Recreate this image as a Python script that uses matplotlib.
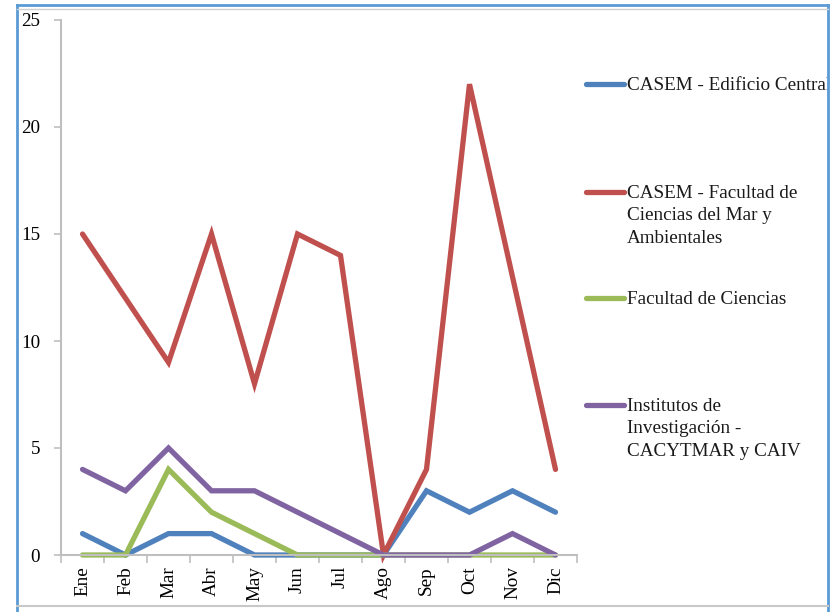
import matplotlib
matplotlib.use("Agg")
import matplotlib.pyplot as plt
from matplotlib.lines import Line2D
from matplotlib.patches import Rectangle

plt.rcParams['font.family'] = ['Liberation Serif', 'DejaVu Serif']

months = ["Ene", "Feb", "Mar", "Abr", "May", "Jun", "Jul", "Ago", "Sep", "Oct", "Nov", "Dic"]
edificio_central = [1, 0, 1, 1, 0, 0, 0, 0, 3, 2, 3, 2]
ciencias_mar = [15, 12, 9, 15, 8, 15, 14, 0, 4, 22, 13, 4]
facultad_ciencias = [0, 0, 4, 2, 1, 0, 0, 0, 0, 0, 0, 0]
institutos = [4, 3, 5, 3, 3, 2, 1, 0, 0, 0, 1, 0]

labels = [
    "CASEM - Edificio Central",
    "CASEM - Facultad de\nCiencias del Mar y\nAmbientales",
    "Facultad de Ciencias",
    "Institutos de\nInvestigación -\nCACYTMAR y CAIV",
]
colors = ["#4F81BD", "#C0504D", "#9BBB59", "#8064A2"]
series = [edificio_central, ciencias_mar, facultad_ciencias, institutos]

FS = 13.8
W, H = 840, 612
fig = plt.figure(figsize=(W / 100, H / 100), dpi=100)
fig.patch.set_facecolor("white")

ax = fig.add_axes([61 / W, 1 - 555 / H, (577 - 61) / W, (555 - 20) / H])
x = list(range(len(months)))
for vals, c in zip(series, colors):
    ax.plot(x, vals, color=c, lw=3.8, solid_capstyle="round", solid_joinstyle="miter", clip_on=False)

ax.set_xlim(-0.5, len(months) - 0.5)
ax.set_ylim(0, 25)
ax.set_yticks([0, 5, 10, 15, 20, 25])
ax.set_xticks(x)
ax.set_xticklabels(months, rotation=90, fontsize=FS)
ax.set_xticks([i - 0.5 for i in range(len(months) + 1)], minor=True)
ax.tick_params(axis="x", which="major", length=0, pad=8)
ax.tick_params(axis="x", which="minor", length=6, color="#BFBFBF", width=1.2, direction="out")
ax.tick_params(axis="y", length=5, color="#BFBFBF", width=1.2, labelsize=FS, pad=10)
for s in ["top", "right"]:
    ax.spines[s].set_visible(False)
for s in ["left", "bottom"]:
    ax.spines[s].set_color("#BFBFBF")
    ax.spines[s].set_linewidth(1.5)
ax.set_facecolor("none")

# legend entries drawn at fixed figure positions
clip = Rectangle((0, 0), 827 / W, 1, transform=fig.transFigure, visible=False)
fig.add_artist(clip)
entry_y = [84, 192, 298, 405]
for lab, c, yy in zip(labels, colors, entry_y):
    fy = 1 - yy / H
    fig.add_artist(Line2D([586 / W, 624 / W], [fy, fy], color=c, lw=3.8,
                          solid_capstyle="round", transform=fig.transFigure))
    t = fig.text(627 / W, fy + 7 / H, lab, fontsize=FS, va="top", ha="left",
                 linespacing=1.42, color="#1a1a1a")
    t.set_clip_path(clip)

# outer frame
fig.add_artist(Line2D([17 / W, 17 / W], [0, 1 - 5 / H], color="#5B9BD5", lw=2, transform=fig.transFigure))
fig.add_artist(Line2D([828 / W, 828 / W], [0, 1 - 5 / H], color="#5B9BD5", lw=2, transform=fig.transFigure))
fig.add_artist(Line2D([17 / W, 828 / W], [1 - 5 / H, 1 - 5 / H], color="#5B9BD5", lw=2, transform=fig.transFigure))
fig.add_artist(Line2D([17 / W, 828 / W], [1 - 9 / H, 1 - 9 / H], color="#D0D0D0", lw=1, transform=fig.transFigure))
fig.add_artist(Line2D([17 / W, 828 / W], [1 - 606 / H, 1 - 606 / H], color="#C8C8C8", lw=1.5, transform=fig.transFigure))

fig.savefig("out.png", dpi=100)
